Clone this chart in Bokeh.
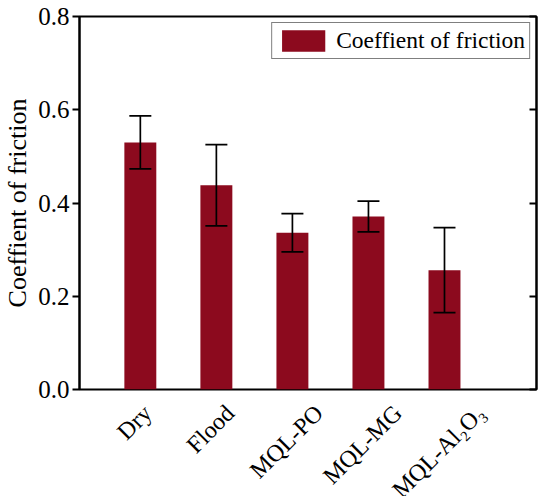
from bokeh.plotting import figure
from bokeh.layouts import column
from bokeh.models import (ColumnDataSource, Whisker, LinearAxis, FixedTicker,
                          Range1d, Legend, LegendItem, NumeralTickFormatter)
from bokeh.core.properties import value
from bokeh.embed import file_html
from bokeh.resources import INLINE
import math

categories = ["Dry", "Flood", "MQL-PO", "MQL-MG", "MQL-Al₂O₃"]
cof_mean = [0.530, 0.438, 0.336, 0.371, 0.256]
cof_err = [0.057, 0.087, 0.041, 0.033, 0.091]
y_ticks = [0.0, 0.2, 0.4, 0.6, 0.8]

FONT = "Liberation Serif"
BAR = "#8C0A1E"
XLAB_PX = 24
FRAME_W, FRAME_H = 457, 373
LEFT = 73
BOTTOM = 13
LAB_H = 94

# approximate Times advance widths (em) to centre rotated labels like Origin
_W = {"D": .722, "r": .333, "y": .5, "F": .556, "l": .278, "o": .5, "d": .5,
      "M": .889, "Q": .722, "L": .611, "-": .333, "P": .556, "O": .722,
      "G": .722, "A": .722, "₂": .35, "₃": .35}


def _label_drop(s):
    w = sum(_W.get(c, .5) for c in s) * XLAB_PX
    return 14 + (w + 16) / (2 * math.sqrt(2))


xs = list(range(1, len(categories) + 1))
src = ColumnDataSource(dict(
    x=xs, top=cof_mean,
    upper=[m + e for m, e in zip(cof_mean, cof_err)],
    lower=[m - e for m, e in zip(cof_mean, cof_err)],
))
lab_src = ColumnDataSource(dict(
    x=xs, y=[-_label_drop(c) for c in categories], text=categories,
))

p = figure(frame_width=FRAME_W, frame_height=FRAME_H, output_backend="svg",
           toolbar_location=None, x_axis_location=None,
           x_range=Range1d(0.2, 6.21), y_range=Range1d(0, 0.8),
           min_border_left=LEFT, min_border_right=4, min_border_top=16,
           min_border_bottom=BOTTOM)
p.outline_line_color = "black"
p.outline_line_width = 2
p.xgrid.visible = False
p.ygrid.visible = False
p.background_fill_color = "white"
p.border_fill_color = "white"

r = p.vbar(x="x", top="top", width=0.42, source=src, fill_color=BAR,
           line_color=None)
w = Whisker(base="x", upper="upper", lower="lower", source=src,
            line_color="black", line_width=1.7, level="overlay")
for h in (w.upper_head, w.lower_head):
    h.size = 22
    h.line_width = 1.7
    h.line_color = "black"
p.add_layout(w)

ya = p.yaxis[0]
ya.ticker = FixedTicker(ticks=y_ticks)
ya.formatter = NumeralTickFormatter(format="0.0")
ya.major_tick_out = 7
ya.major_tick_in = 0
ya.minor_tick_out = 0
ya.minor_tick_in = 0
ya.major_tick_line_width = 2
ya.axis_line_width = 2
ya.major_label_text_font = FONT
ya.major_label_text_font_size = "25px"
ya.major_label_text_color = "black"
ya.major_label_standoff = 3
ya.axis_label = "Coeffient of friction"
ya.axis_label_text_font = FONT
ya.axis_label_text_font_size = "26px"
ya.axis_label_text_font_style = "normal"
ya.axis_label_text_color = "black"
ya.axis_label_standoff = 3

ra = LinearAxis(ticker=FixedTicker(ticks=y_ticks))
ra.major_label_overrides = {t: "" for t in y_ticks}
ra.major_tick_in = 7
ra.major_tick_out = 0
ra.minor_tick_in = 0
ra.minor_tick_out = 0
ra.major_tick_line_width = 2
ra.axis_line_width = 2
ra.major_label_standoff = 0
p.add_layout(ra, "right")

legend = Legend(items=[LegendItem(label="Coeffient of friction", renderers=[r])],
                location="top_right")
legend.label_text_font = FONT
legend.label_text_font_size = "23.5px"
legend.label_text_color = "black"
legend.border_line_color = "black"
legend.border_line_width = 1.5
legend.glyph_width = 54
legend.glyph_height = 27
legend.padding = 4
legend.spacing = 0
legend.margin = 6
legend.label_standoff = 6
legend.label_height = 27
p.add_layout(legend)

# category labels strip under the frame, sharing the x scale
p2 = figure(frame_width=FRAME_W, frame_height=LAB_H, output_backend="svg",
            toolbar_location=None, x_axis_location=None, y_axis_location=None,
            x_range=p.x_range, y_range=Range1d(-(BOTTOM + LAB_H), -BOTTOM),
            min_border_left=LEFT, min_border_right=0, min_border_top=0,
            min_border_bottom=0)
p2.outline_line_color = None
p2.xgrid.visible = False
p2.ygrid.visible = False
p2.background_fill_color = "white"
p2.border_fill_color = "white"
p2.text(x="x", y="y", text="text", source=lab_src, angle=math.pi / 4,
        text_align="center", text_baseline="middle", x_offset=-6,
        text_font=value(FONT), text_font_size=value(f"{XLAB_PX}px"),
        text_color="black")

layout = column(p, p2, spacing=0)
open("out.html", "w").write(file_html(layout, INLINE))
